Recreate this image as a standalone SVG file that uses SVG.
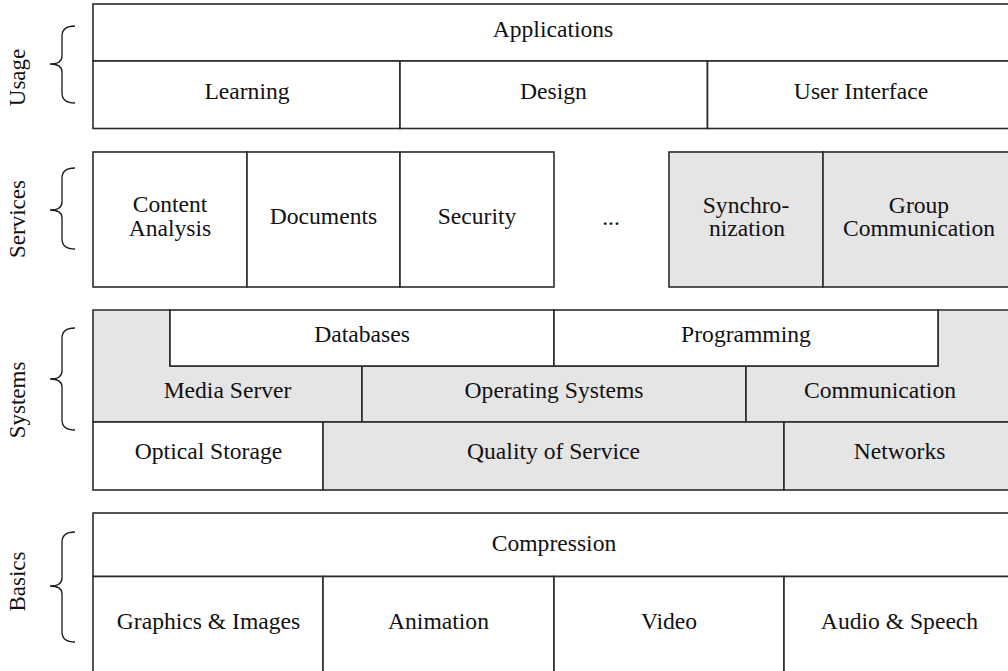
<svg xmlns="http://www.w3.org/2000/svg" width="1008" height="671" viewBox="0 0 1008 671">
  <style>
    .cell { fill: #ffffff; stroke: #2b2b2b; stroke-width: 1.6; }
    .shade { fill: #e5e5e5; stroke: #2b2b2b; stroke-width: 1.6; }
    .brace { fill: none; stroke: #1a1a1a; stroke-width: 1.3; }
    text { font-family: "Liberation Serif", "Times New Roman", serif; font-size: 23.6px; fill: #111; text-anchor: middle; }
    .layer { font-size: 23px; }
  </style>
  <rect width="1008" height="671" fill="#ffffff"/>

  <!-- Layer labels with braces -->
  <g id="usage-label">
    <path class="brace" d="M75,26 Q62,26 62,36 L62,56 Q62,64 50,64 Q62,64 62,72 L62,93 Q62,103 75,103"/>
    <text class="layer" transform="translate(24.5,77.5) rotate(-90)">Usage</text>
  </g>
  <g id="services-label">
    <path class="brace" d="M75,168 Q62,168 62,178 L62,202 Q62,210 50,210 Q62,210 62,218 L62,239 Q62,249 75,249"/>
    <text class="layer" transform="translate(24.5,219) rotate(-90)">Services</text>
  </g>
  <g id="systems-label">
    <path class="brace" d="M75,328 Q62,328 62,338 L62,371 Q62,379 50,379 Q62,379 62,387 L62,420 Q62,430 75,430"/>
    <text class="layer" transform="translate(24.5,400) rotate(-90)">Systems</text>
  </g>
  <g id="basics-label">
    <path class="brace" d="M75,532 Q62,532 62,542 L62,578 Q62,586 50,586 Q62,586 62,594 L62,632 Q62,642 75,642"/>
    <text class="layer" transform="translate(24.5,581.5) rotate(-90)">Basics</text>
  </g>

  <!-- Usage layer -->
  <g id="applications">
    <rect class="cell" x="93" y="4" width="921" height="57"/>
    <text x="553" y="37">Applications</text>
  </g>
  <g id="learning">
    <rect class="cell" x="93" y="61" width="307" height="67.5"/>
    <text x="247" y="99">Learning</text>
  </g>
  <g id="design">
    <rect class="cell" x="400" y="61" width="307.5" height="67.5"/>
    <text x="553.5" y="99">Design</text>
  </g>
  <g id="user-interface">
    <rect class="cell" x="707.5" y="61" width="306.5" height="67.5"/>
    <text x="861" y="99">User Interface</text>
  </g>

  <!-- Services layer -->
  <g id="content-analysis">
    <rect class="cell" x="93" y="152" width="154" height="135"/>
    <text x="170" y="212">Content</text>
    <text x="170" y="235.5">Analysis</text>
  </g>
  <g id="documents">
    <rect class="cell" x="247" y="152" width="153" height="135"/>
    <text x="323.5" y="223.5">Documents</text>
  </g>
  <g id="security">
    <rect class="cell" x="400" y="152" width="154" height="135"/>
    <text x="477" y="223.5">Security</text>
  </g>
  <g id="more-services">
    <text x="611" y="225">...</text>
  </g>
  <g id="synchronization">
    <rect class="shade" x="669" y="152" width="154" height="135"/>
    <text x="746" y="212.5">Synchro-</text>
    <text x="747" y="236">nization</text>
  </g>
  <g id="group-communication">
    <rect class="shade" x="823" y="152" width="191" height="135"/>
    <text x="919" y="212.5">Group</text>
    <text x="919" y="236">Communication</text>
  </g>

  <!-- Systems layer -->
  <g id="media-server">
    <path class="shade" d="M93,310 H170 V366 H362 V422 H93 Z"/>
    <text x="227.5" y="397.5">Media Server</text>
  </g>
  <g id="operating-systems">
    <rect class="shade" x="362" y="366" width="384" height="56"/>
    <text x="554" y="397.5">Operating Systems</text>
  </g>
  <g id="communication">
    <path class="shade" d="M938,310 H1014 V422 H746 V366 H938 Z"/>
    <text x="880" y="397.5">Communication</text>
  </g>
  <g id="databases">
    <rect class="cell" x="170" y="310" width="384" height="56"/>
    <text x="362" y="341.5">Databases</text>
  </g>
  <g id="programming">
    <rect class="cell" x="554" y="310" width="384" height="56"/>
    <text x="746" y="341.5">Programming</text>
  </g>
  <g id="optical-storage">
    <rect class="cell" x="93" y="422" width="230" height="68"/>
    <text x="208.5" y="458.5">Optical Storage</text>
  </g>
  <g id="quality-of-service">
    <rect class="shade" x="323" y="422" width="461" height="68"/>
    <text x="553.5" y="458.5">Quality of Service</text>
  </g>
  <g id="networks">
    <rect class="shade" x="784" y="422" width="230" height="68"/>
    <text x="899.5" y="458.5">Networks</text>
  </g>

  <!-- Basics layer -->
  <g id="compression">
    <rect class="cell" x="93" y="513" width="921" height="63.5"/>
    <text x="554" y="551">Compression</text>
  </g>
  <g id="graphics-images">
    <rect class="cell" x="93" y="576.5" width="230" height="110"/>
    <text x="208.5" y="629">Graphics &amp; Images</text>
  </g>
  <g id="animation">
    <rect class="cell" x="323" y="576.5" width="231" height="110"/>
    <text x="438.5" y="629">Animation</text>
  </g>
  <g id="video">
    <rect class="cell" x="554" y="576.5" width="230" height="110"/>
    <text x="669" y="629">Video</text>
  </g>
  <g id="audio-speech">
    <rect class="cell" x="784" y="576.5" width="230" height="110"/>
    <text x="899.5" y="629">Audio &amp; Speech</text>
  </g>

  <!-- no connectors in this layer chart -->
  <g id="connectors"/>
</svg>
